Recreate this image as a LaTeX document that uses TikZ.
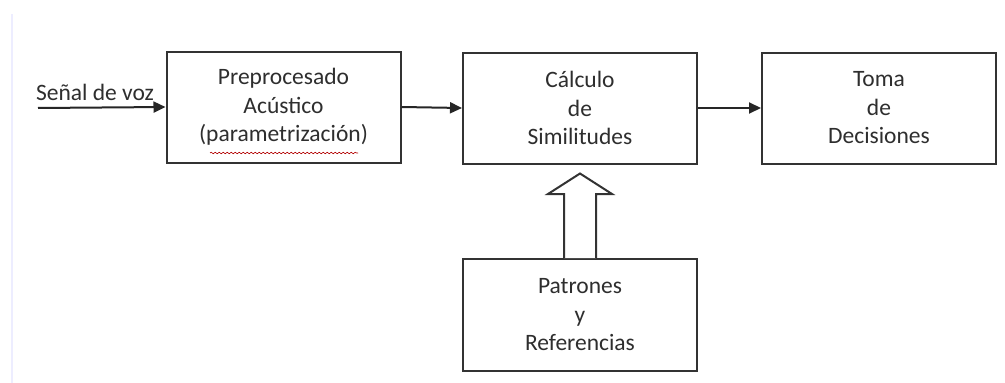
\documentclass[tikz,border=0pt]{standalone}
\usepackage{fontspec}
\setmainfont{Carlito}
\usetikzlibrary{calc,arrows.meta,decorations.pathmorphing}
\begin{document}
\begin{tikzpicture}[x=1pt,y=-1pt,
  blockbox/.style={draw=black!80,line width=2pt,minimum width=234pt,minimum height=111pt,
    align=center,font=\fontsize{23.5}{28.5}\selectfont,text=black!82,inner sep=0pt},
  flow/.style={draw=black!85,line width=2pt,-{Triangle[length=12pt,width=11pt]}},
  lbl/.style={font=\fontsize{23.5}{28}\selectfont,text=black!82,inner sep=0pt}]
\useasboundingbox (0,0) rectangle (1005,383);
\fill[white] (0,0) rectangle (1005,383);
\draw[blue!7,line width=2pt] (12,14) -- (12,383);
\node[blockbox] (pre) at (283.5,107) {Preprocesado\\Acústico\\(parametrización)};
\node[blockbox] (calc) at (580,108) {Cálculo\\de\\Similitudes};
\node[blockbox] (toma) at (879,108) {Toma\\de\\Decisiones};
\node[blockbox,minimum height=112pt] (pat) at (580,315) {Patrones\\y\\Referencias};
\coordinate (in) at (38,108);
\node[lbl] (senal) at (95,92) {Señal de voz};
\draw[flow] (in) -- (pre.west);
\draw[flow] (pre.east) -- (calc.west);
\draw[flow] (calc.east) -- (toma.west);
\draw[red!70!black,line width=0.6pt,decorate,decoration={snake,amplitude=0.8pt,segment length=4pt}]
  (210,153) -- (358,153);
\draw[black!80,line width=2pt,fill=white,line join=miter]
  ($(pat.north)+(-16,0)$) -- ($(calc.south |- 0,194)+(-16,0)$) -- ($(calc.south |- 0,194)+(-32,0)$)
  -- ($(calc.south)+(0,9)$) -- ($(calc.south |- 0,194)+(32,0)$) -- ($(calc.south |- 0,194)+(16,0)$)
  -- ($(pat.north)+(16,0)$);
\end{tikzpicture}
\end{document}
